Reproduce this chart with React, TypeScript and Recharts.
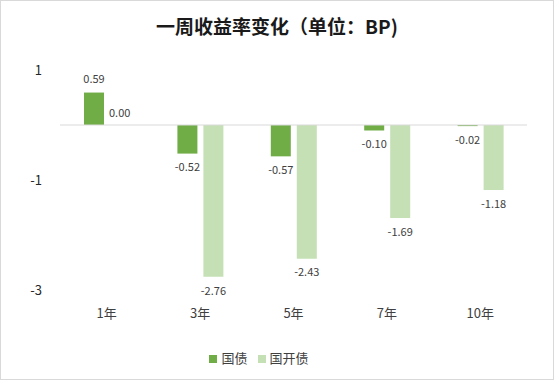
import {
  BarChart,
  Bar,
  XAxis,
  YAxis,
  Legend,
  LabelList,
  ReferenceLine,
  ReferenceDot,
} from "recharts";

const tenors = ["1年", "3年", "5年", "7年", "10年"];
const guozhai = [0.59, -0.52, -0.57, -0.1, -0.02];
const guokaizhai = [0.0, -2.76, -2.43, -1.69, -1.18];
const yTicks = [1, -1, -3];

const data = tenors.map((t, i) => ({
  tenor: t,
  gz: guozhai[i],
  gkz: guokaizhai[i],
}));

const font = "'Noto Sans CJK SC', 'Microsoft YaHei', sans-serif";
const fmt = (v: any) => Number(v).toFixed(2);
const labelStyle = { fontSize: 11, fill: "#404040", fontFamily: font };

// y tick labels, right aligned against the plot
const YTick = (props: any) => {
  const { x, y, payload } = props;
  return (
    <text
      x={x}
      y={y}
      dy="0.355em"
      textAnchor="end"
      fontSize={13}
      fill="#262626"
      fontFamily={font}
    >
      {payload.value}
    </text>
  );
};

const App = () => {
  return (
    <div
      style={{
        position: "absolute",
        left: 0,
        top: 0,
        width: 552,
        height: 378,
        border: "1px solid #d9d9d9",
        background: "#fff",
        fontFamily: font,
      }}
    >
      <div
        style={{
          position: "absolute",
          top: 11,
          width: "100%",
          textAlign: "center",
          fontSize: 19,
          fontWeight: "bold",
          color: "#1a1a1a",
        }}
      >
        一周收益率变化（单位：BP)
      </div>
      <BarChart
        width={552}
        height={378}
        data={data}
        margin={{ top: 69, right: 26, left: 0, bottom: 12 }}
        barSize={20}
        barGap={6}
      >
        <XAxis
          dataKey="tenor"
          axisLine={false}
          tickLine={false}
          tickSize={0}
          tickMargin={19}
          height={58}
          tick={{ fontSize: 13, fill: "#404040", fontFamily: font }}
        />
        <YAxis
          domain={[-3, 1]}
          ticks={yTicks}
          axisLine={false}
          tickLine={false}
          tickSize={0}
          tickMargin={18}
          width={59}
          tick={<YTick />}
        />
        <ReferenceLine y={0} stroke="#d9d9d9" strokeWidth={1} />
        <Legend
          verticalAlign="bottom"
          iconType="square"
          iconSize={8}
          wrapperStyle={{ fontSize: 13, color: "#404040", fontFamily: font }}
          formatter={(v: any) => <span style={{ color: "#404040" }}>{v}</span>}
        />
        <Bar dataKey="gz" name="国债" fill="#70AD47" isAnimationActive={false}>
          <LabelList dataKey="gz" position="top" offset={10} formatter={fmt} style={labelStyle} />
        </Bar>
        <Bar dataKey="gkz" name="国开债" fill="#C5E0B4" isAnimationActive={false}>
          <LabelList dataKey="gkz" position="top" offset={10} formatter={fmt} style={labelStyle} />
        </Bar>
        {data
          .filter((d) => d.gkz === 0)
          .map((d) => (
            <ReferenceDot
              key={d.tenor}
              x={d.tenor}
              y={d.gkz}
              r={0}
              fill="none"
              stroke="none"
              label={{
                value: fmt(d.gkz),
                position: "top",
                offset: 8,
                dx: 13,
                style: labelStyle,
              }}
            />
          ))}
      </BarChart>
    </div>
  );
};

export default App;
